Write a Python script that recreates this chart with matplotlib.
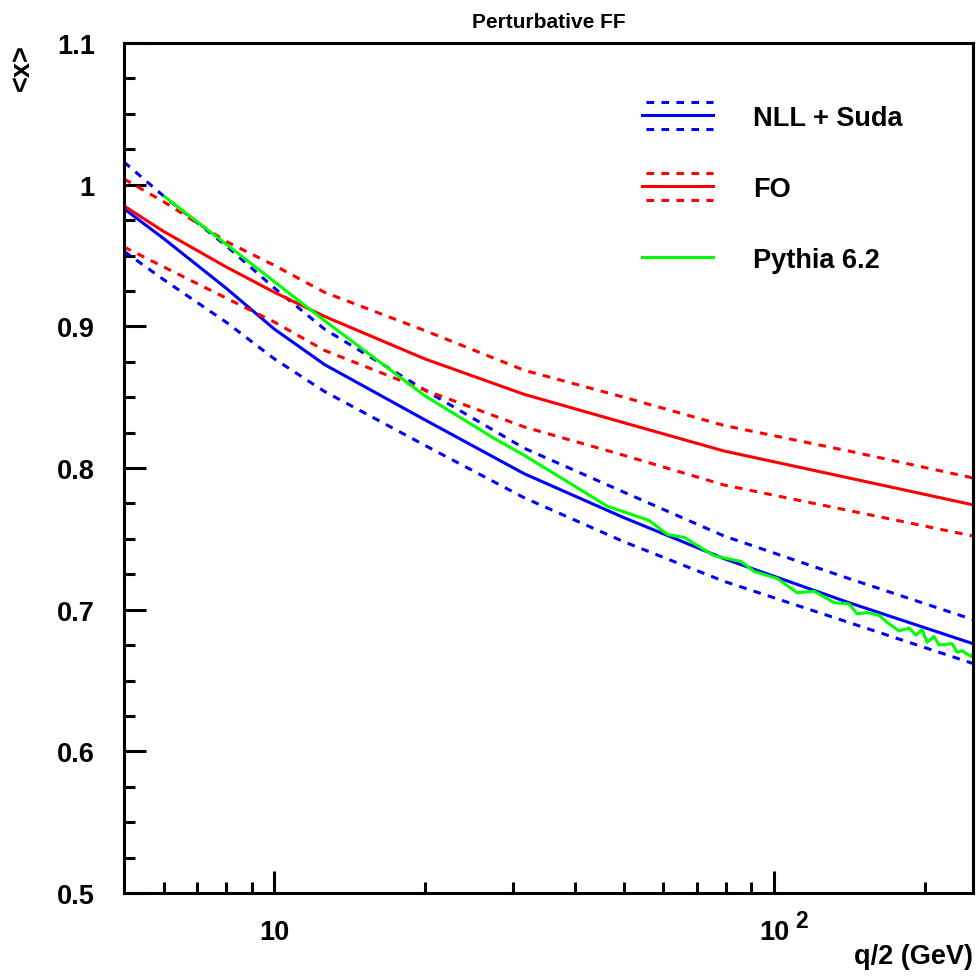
#!/usr/bin/env python3
"""Mean x of the perturbative fragmentation function vs q/2"""
import matplotlib
matplotlib.use("Agg")
import matplotlib.pyplot as plt
from matplotlib.ticker import FixedLocator, MultipleLocator, FuncFormatter
from matplotlib.legend_handler import HandlerBase
from matplotlib.lines import Line2D

# q/2 grid (GeV) for the theory curves
q_th = [5, 6, 8, 10, 12.6, 20, 31.6, 50, 79.4, 141, 250]

# NLL + Suda: central, upper, lower
nll = [0.983, 0.962, 0.927, 0.898, 0.873, 0.834, 0.796, 0.765, 0.736, 0.705, 0.676]
nll_up = [1.016, 0.992, 0.957, 0.927, 0.898, 0.855, 0.814, 0.783, 0.752, 0.722, 0.693]
nll_lo = [0.953, 0.933, 0.903, 0.877, 0.854, 0.816, 0.779, 0.748, 0.720, 0.691, 0.662]

# FO: central, upper, lower
fo = [0.985, 0.967, 0.942, 0.924, 0.907, 0.877, 0.852, 0.832, 0.812, 0.793, 0.774]
fo_up = [1.004, 0.988, 0.960, 0.943, 0.924, 0.897, 0.869, 0.850, 0.830, 0.812, 0.793]
fo_lo = [0.956, 0.942, 0.920, 0.903, 0.883, 0.855, 0.829, 0.809, 0.788, 0.770, 0.752]

# Pythia 6.2
q_py = [6.03, 7.94, 10, 12.6, 20, 27.5, 31.6, 46.4, 56.2, 61.2, 66.1, 75.9,
        85.9, 91.2, 101.4, 111.2, 120.2, 131.8, 141.3, 146.6, 153.5, 162.2,
        168.3, 177.8, 186.2, 192.3, 197.7, 202.3, 208.9, 213.8, 227, 232.3,
        237.7, 247.7, 250]
pythia = [0.9915, 0.959, 0.9315, 0.904, 0.851, 0.821, 0.809, 0.773, 0.763,
          0.753, 0.751, 0.738, 0.734, 0.727, 0.722, 0.712, 0.713, 0.705,
          0.704, 0.697, 0.698, 0.696, 0.691, 0.685, 0.687, 0.682, 0.686,
          0.677, 0.681, 0.675, 0.676, 0.670, 0.671, 0.667, 0.669]

labels = ["NLL + Suda", "FO", "Pythia 6.2"]
xtick_pos = [10, 100]
xtick_lab = ["10", "10"]
xtick_exp = ["", "2"]

BLUE = "#0000ff"
RED = "#ff0000"
GREEN = "#00ff00"
LW = 2.2
DASH = (2.5, 2.4)
FS = 19.5

plt.rcParams["font.family"] = ["Liberation Sans", "DejaVu Sans"]
plt.rcParams["font.weight"] = "bold"


class BandHandler(HandlerBase):
    """Legend entry: solid line with an optional dashed band around it"""

    def __init__(self, offset, **kw):
        HandlerBase.__init__(self, **kw)
        self.offset = offset

    def create_artists(self, legend, orig_handle, xdescent, ydescent,
                       width, height, fontsize, trans):
        y = height / 2 - ydescent
        xs = [-xdescent, width - xdescent]
        col = orig_handle.get_color()
        arts = [Line2D(xs, [y, y], color=col, lw=LW, transform=trans)]
        if self.offset:
            for s in (-1, 1):
                arts.append(Line2D([xs[0] + 3, xs[1]], [y + s * self.offset] * 2,
                                   color=col, lw=LW, dashes=DASH,
                                   transform=trans))
        return arts


fig = plt.figure(figsize=(9.76, 9.78), dpi=100)
ax = fig.add_axes([124 / 976, 1 - 894 / 978, 849 / 976, 850 / 978])

ax.plot(q_th, nll_up, color=BLUE, lw=LW, dashes=DASH)
ax.plot(q_th, nll_lo, color=BLUE, lw=LW, dashes=DASH)
h1, = ax.plot(q_th, nll, color=BLUE, lw=LW)
ax.plot(q_th, fo_up, color=RED, lw=LW, dashes=DASH)
ax.plot(q_th, fo_lo, color=RED, lw=LW, dashes=DASH)
h2, = ax.plot(q_th, fo, color=RED, lw=LW)
h3, = ax.plot(q_py, pythia, color=GREEN, lw=LW)

ax.set_xscale("log")
ax.set_xlim(5, 250)
ax.set_ylim(0.5, 1.1)

ax.xaxis.set_major_locator(FixedLocator(xtick_pos))
ax.xaxis.set_major_formatter(FuncFormatter(
    lambda v, p: xtick_lab[xtick_pos.index(round(v))] if round(v) in xtick_pos else ""))
ax.xaxis.set_minor_locator(FixedLocator([6, 7, 8, 9, 20, 30, 40, 50, 60, 70, 80, 90, 200]))
ax.xaxis.set_minor_formatter(FuncFormatter(lambda v, p: ""))
ax.yaxis.set_major_locator(MultipleLocator(0.1))
ax.yaxis.set_minor_locator(MultipleLocator(0.025))
ax.yaxis.set_major_formatter(FuncFormatter(lambda v, p: f"{v:g}"))

ax.tick_params(which="both", direction="in", width=2.2, top=False, right=False,
               labelsize=FS)
ax.tick_params(which="major", length=16)
ax.tick_params(which="minor", length=8)
ax.tick_params(axis="y", pad=21)
ax.tick_params(axis="x", pad=19)
for sp in ax.spines.values():
    sp.set_linewidth(2.2)

# exponent of the decade labels, ROOT style
for pos, ex in zip(xtick_pos, xtick_exp):
    if ex:
        ax.annotate(ex, xy=(pos, 0), xycoords=ax.get_xaxis_transform(),
                    xytext=(15.5, -11.5), textcoords="offset points",
                    fontsize=16.5, fontweight="bold", ha="left", va="top")

ax.set_title("Perturbative FF", fontsize=15, fontweight="bold", pad=11.5)
ax.set_xlabel("q/2 (GeV)", fontsize=FS, fontweight="bold", loc="right", labelpad=-2)
ax.set_ylabel("<x>", fontsize=FS, fontweight="bold", loc="top", labelpad=16)

ax.legend([h1, h2, h3], labels, loc="upper left", bbox_to_anchor=(0.610, 0.930),
          frameon=False, fontsize=FS, borderpad=0, borderaxespad=0,
          handlelength=2.62, handleheight=1.1, handletextpad=1.5,
          labelspacing=1.58,
          handler_map={h1: BandHandler(10), h2: BandHandler(10),
                       h3: BandHandler(0)})

fig.savefig("out.png", dpi=100)
